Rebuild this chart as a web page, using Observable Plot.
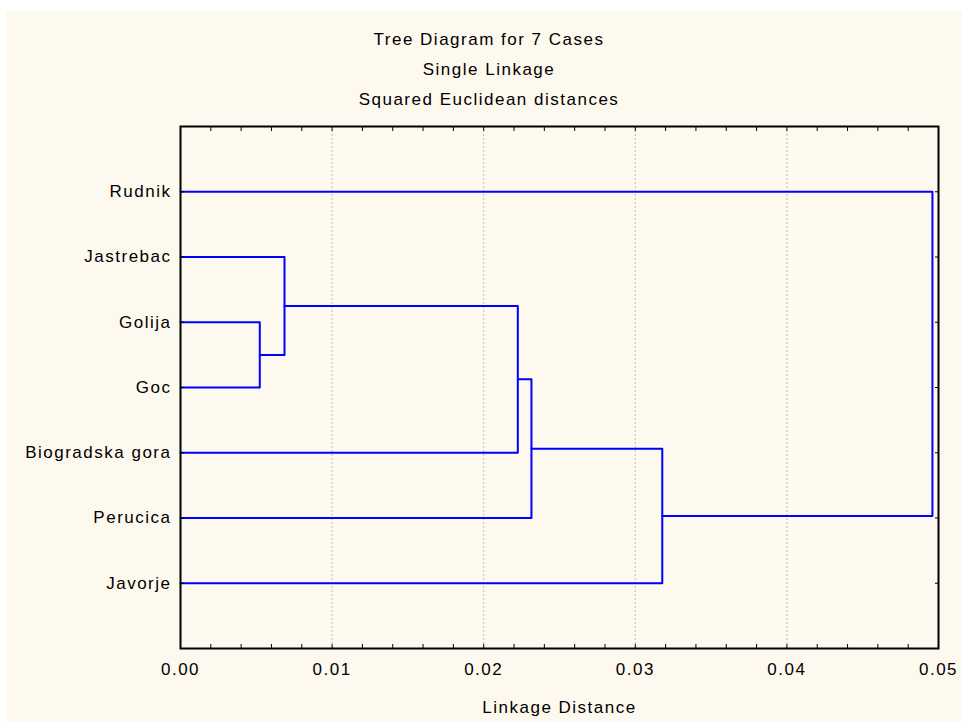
<!DOCTYPE html>
<html>
<head>
<meta charset="utf-8">
<script src="https://cdn.jsdelivr.net/npm/d3@7"></script>
<script src="https://cdn.jsdelivr.net/npm/@observablehq/plot@0.6"></script>
<style>
  html, body { margin: 0; padding: 0; background: #ffffff; }
  #panel {
    position: absolute; left: 6px; top: 11px; width: 956px; height: 711px;
    background: #fef9ee; overflow: hidden;
    font-family: "Liberation Sans", Arial, sans-serif;
  }
  #titles {
    padding-top: 14px; padding-left: 10px;
    text-align: center; font-size: 17px; line-height: 30px;
    letter-spacing: 1.5px; color: #000;
  }
  #titles div { height: 30px; }
  #chart { margin-top: -1px; }
  #chart svg { display: block; }
</style>
</head>
<body>
<div id="panel">
  <div id="titles"></div>
  <div id="chart"></div>
</div>
<script>
// ---- data ----
const titleLines = ["Tree Diagram for 7 Cases", "Single Linkage", "Squared Euclidean distances"];
const xLabel = "Linkage Distance";
const cases = ["Rudnik", "Jastrebac", "Golija", "Goc", "Biogradska gora", "Perucica", "Javorje"];
// linkage steps: members (leaf index 0..6, or cluster index 7+) and linkage distance
const mergeA = [2, 1, 8, 9, 10, 0];
const mergeB = [3, 7, 4, 5, 6, 11];
const mergeDist = [0.00523, 0.00686, 0.02225, 0.02315, 0.03178, 0.0496];
const xTicks = [0, 0.01, 0.02, 0.03, 0.04, 0.05];
const gridTicks = [0.01, 0.02, 0.03, 0.04];

// ---- titles ----
const tdiv = document.getElementById("titles");
for (const t of titleLines) { const d = document.createElement("div"); d.textContent = t; tdiv.appendChild(d); }

// ---- build dendrogram paths from linkage ----
const rows = cases.map((c, i) => i + 1);
const nodes = cases.map((c, i) => ({x: 0, y: i + 1}));
const pts = [];
mergeDist.forEach((h, k) => {
  const a = nodes[mergeA[k]], b = nodes[mergeB[k]];
  pts.push({id: k, x: a.x, y: a.y}, {id: k, x: h, y: a.y}, {id: k, x: h, y: b.y}, {id: k, x: b.x, y: b.y});
  nodes.push({x: h, y: (a.y + b.y) / 2});
});

const plot = Plot.plot({
  width: 956,
  height: 608,
  marginLeft: 174,
  marginRight: 24,
  marginTop: 12,
  marginBottom: 74,
  style: {fontFamily: "Liberation Sans, Arial, sans-serif", fontSize: "17px", letterSpacing: "1.5px", background: "transparent", color: "#000", overflow: "visible"},
  x: {domain: [0, 0.05]},
  y: {domain: [cases.length + 1, 0]},
  marks: [
    Plot.gridX(gridTicks, {stroke: "#bdbdbd", strokeOpacity: 1, strokeDasharray: "2,2"}),
    Plot.line(pts, {x: "x", y: "y", z: "id", stroke: "#0000ff", strokeWidth: 2}),
    Plot.frame({stroke: "#000", strokeWidth: 2}),
    // tick labels
    Plot.axisX(xTicks, {anchor: "bottom", tickSize: 0, tickPadding: 14, tickFormat: d3.format(".2f"), label: null, fill: "#000"}),
    Plot.axisY(rows, {anchor: "left", tickSize: 0, tickPadding: 9, tickFormat: d => cases[d - 1], label: null, fill: "#000"}),
    // inward tick marks
    Plot.axisX({anchor: "bottom", ticks: 20, tickSize: -4, tickFormat: () => "", label: null, stroke: "#000"}),
    Plot.axisX({anchor: "top", ticks: 20, tickSize: -4, tickFormat: () => "", label: null, stroke: "#000"}),
    Plot.axisY(rows, {anchor: "left", tickSize: -4, tickFormat: () => "", label: null, stroke: "#000"}),
    Plot.axisY(rows, {anchor: "right", tickSize: -4, tickFormat: () => "", label: null, stroke: "#000"}),
    // axis title
    Plot.text([xLabel], {frameAnchor: "bottom", dy: 64, fill: "#000"})
  ]
});
document.getElementById("chart").appendChild(plot);
</script>
</body>
</html>
